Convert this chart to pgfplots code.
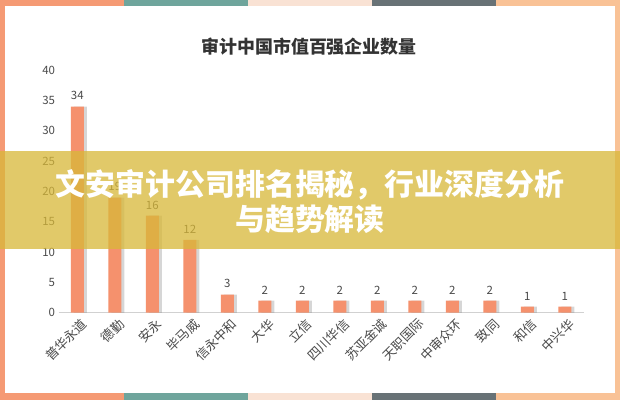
\documentclass[border=0pt]{standalone}
\usepackage{fontspec}
\setmainfont{Noto Sans CJK SC}
\usepackage{pgfplots}
\pgfplotsset{compat=1.18}
\usepackage{pgfplotstable}
\definecolor{barc}{HTML}{F5916D}
\definecolor{fo}{HTML}{F59A74}
\definecolor{ft}{HTML}{6FA59C}
\definecolor{fp}{HTML}{F9E2D4}
\definecolor{fg}{HTML}{687276}
\definecolor{flo}{HTML}{F9C296}
\definecolor{bannerc}{HTML}{D8B838}
\definecolor{titlec}{HTML}{333333}
\definecolor{tickc}{HTML}{4A4A4A}
\pgfplotstableread{
x y
0 34
1 19
2 16
3 12
4 3
5 2
6 2
7 2
8 2
9 2
10 2
11 2
12 1
13 1
}\datatable
\begin{document}
\begin{tikzpicture}[x=1bp,y=1bp]
\useasboundingbox (0,0) rectangle (620,400);
\fill[white] (0,0) rectangle (620,400);
% frame
\fill[fo] (0,394) rectangle (124,400);
\fill[ft] (124,394) rectangle (248,400);
\fill[fp] (248,394) rectangle (372,400);
\fill[fg] (372,394) rectangle (496,400);
\fill[flo] (496,394) rectangle (620,400);
\fill[fo] (0,0) rectangle (124,7);
\fill[ft] (124,0) rectangle (248,7);
\fill[fp] (248,0) rectangle (372,7);
\fill[fg] (372,0) rectangle (496,7);
\fill[flo] (496,0) rectangle (620,7);
\fill[fo] (0,0) rectangle (5,400);
\fill[flo] (615,0) rectangle (620,400);
% title
\node[font=\fontsize{18}{20}\selectfont\bfseries, text=titlec] at (309,353.5) {审计中国市值百强企业数量};
\begin{axis}[
  at={(58.5bp,87.3bp)}, anchor=south west,
  scale only axis, width=525bp, height=242.4bp,
  ybar, bar width=13bp,
  xmin=-0.5, xmax=13.5, ymin=0, ymax=40,
  ytick={0,5,...,40},
  xtick=data,
  xticklabels={普华永道,德勤,安永,毕马威,信永中和,大华,立信,四川华信,苏亚金诚,天职国际,中审众环,致同,和信,中兴华},
  axis x line*=bottom, axis y line*=left,
  y axis line style={draw=none},
  x axis line style={draw=black!18, line width=0.8bp},
  major tick length=0pt,
  /pgf/number format/assume math mode=true,
  yticklabel style={font=\fontsize{11.5}{13}\selectfont, text=tickc},
  xticklabel style={rotate=45, anchor=north east, font=\fontsize{13}{15}\selectfont, text=tickc, inner sep=1bp, yshift=-4bp},
  clip=false,
  enlargelimits=false,
]
\addplot[draw=none, fill=black, opacity=0.16, bar shift=3bp] table[x=x,y=y] {\datatable};
\addplot[draw=none, fill=barc, bar shift=0pt,
  nodes near coords,
  every node near coord/.append style={font=\fontsize{11.5}{13}\selectfont, text=tickc, yshift=3bp}] table[x=x,y=y] {\datatable};
\end{axis}
% banner
\fill[bannerc, opacity=0.75] (0,151) rectangle (620,249);
\node[text=white, font=\fontsize{30}{33}\selectfont\bfseries] at (310,215) {文安审计公司排名揭秘，行业深度分析};
\node[text=white, font=\fontsize{30}{33}\selectfont\bfseries] at (310,181) {与趋势解读};
\end{tikzpicture}
\end{document}
